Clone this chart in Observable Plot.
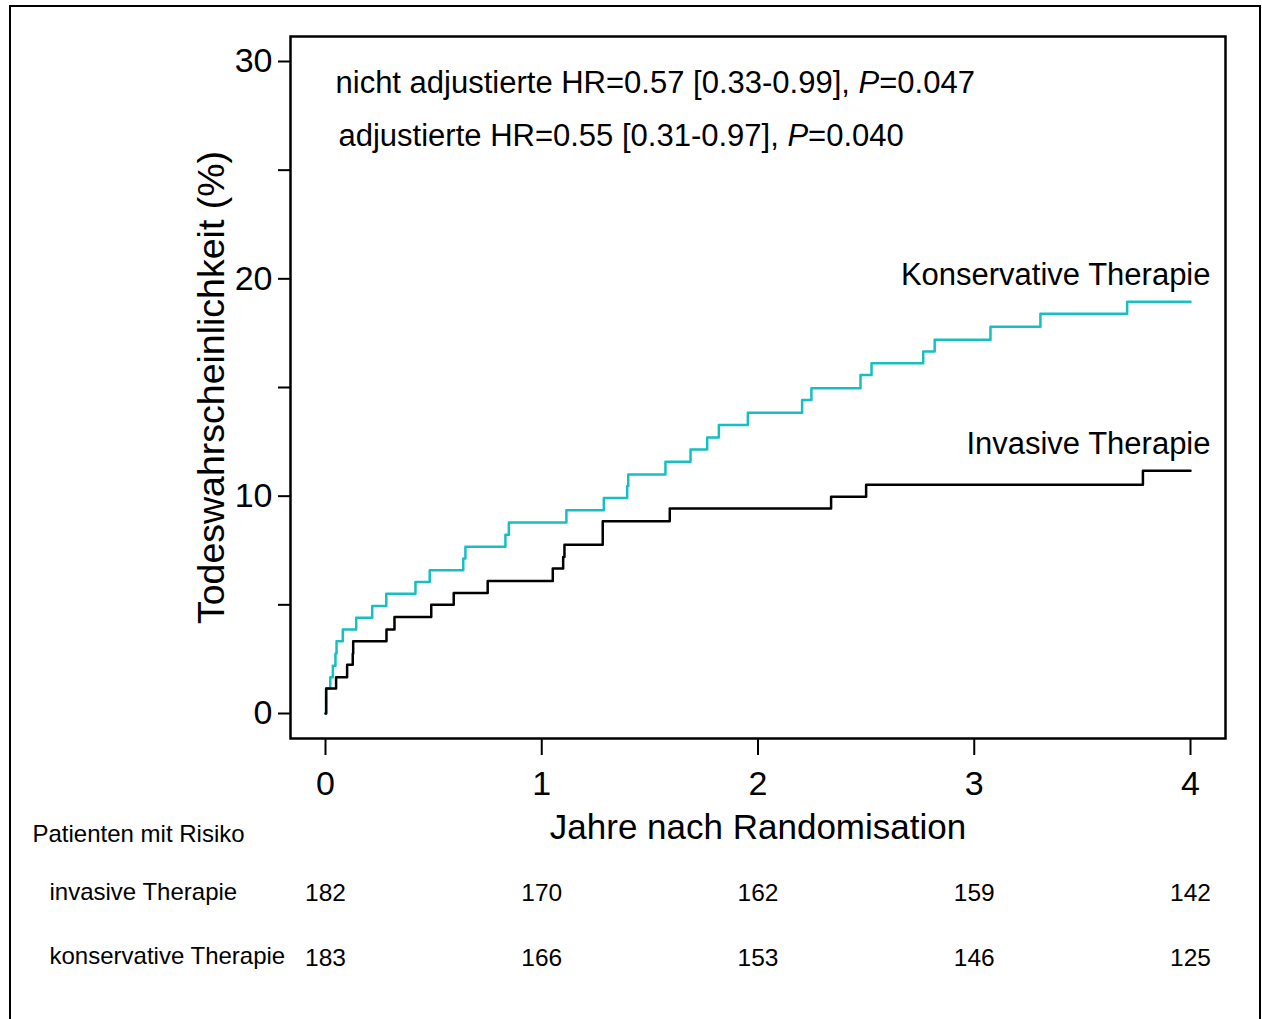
<!DOCTYPE html>
<html>
<head>
<meta charset="utf-8">
<script src="https://cdn.jsdelivr.net/npm/d3@7"></script>
<script src="https://cdn.jsdelivr.net/npm/@observablehq/plot@0.6"></script>
<style>
  html, body { margin: 0; padding: 0; background: #fff; }
  #wrap { position: relative; width: 1262px; height: 1019px; overflow: hidden; background: #fff; }
  #border { position: absolute; left: 9px; top: 5px; width: 1252px; height: 1040px; border: 2.5px solid #000; box-sizing: border-box; pointer-events: none; }
  #chart { position: absolute; left: 0; top: 0; }
</style>
</head>
<body>
<div id="wrap"><div id="chart"></div><div id="border"></div></div>
<script>
// Kaplan-Meier step data (years, cumulative mortality %)
const konsTime = [0, 0.003, 0.022, 0.034, 0.046, 0.051, 0.08, 0.142, 0.216, 0.281, 0.416, 0.482, 0.637, 0.647, 0.832, 0.848, 1.114, 1.287, 1.395, 1.40, 1.572, 1.688, 1.765, 1.819, 1.953, 2.204, 2.247, 2.474, 2.525, 2.764, 2.817, 3.075, 3.306, 3.707, 4.0];
const konsRisk = [0, 1.15, 1.67, 2.2, 2.76, 3.33, 3.87, 4.41, 4.95, 5.51, 6.05, 6.59, 7.13, 7.67, 8.23, 8.79, 9.35, 9.92, 10.47, 11.0, 11.58, 12.15, 12.7, 13.27, 13.84, 14.42, 14.96, 15.58, 16.11, 16.66, 17.2, 17.8, 18.39, 18.95, 18.95];
const invTime = [0, 0.003, 0.049, 0.1, 0.126, 0.128, 0.282, 0.319, 0.489, 0.593, 0.75, 1.051, 1.099, 1.105, 1.282, 1.592, 2.338, 2.5, 3.78, 4.0];
const invRisk = [0, 1.15, 1.67, 2.24, 2.75, 3.33, 3.87, 4.44, 5.0, 5.54, 6.1, 6.67, 7.2, 7.77, 8.85, 9.43, 9.97, 10.53, 11.17, 11.17];

const seriesNames = ["Konservative Therapie", "Invasive Therapie"];
const seriesColors = ["#17bfbf", "#000000"];

const xTicks = [0, 1, 2, 3, 4];
const yTicksMajor = [0, 10, 20, 30];
const yTicksMinor = [5, 15, 25];

const riskTitle = "Patienten mit Risiko";
const riskRowNames = ["invasive Therapie", "konservative Therapie"];
const riskInvasive = [182, 170, 162, 159, 142];
const riskKonservativ = [183, 166, 153, 146, 125];

const annotLines = ["nicht adjustierte HR=0.57 [0.33-0.99], P=0.047", "adjustierte HR=0.55 [0.31-0.97], P=0.040"];
const xLabel = "Jahre nach Randomisation";
const yLabel = "Todeswahrscheinlichkeit (%)";

const kons = konsTime.map((t, i) => ({t, v: konsRisk[i]}));
const inv = invTime.map((t, i) => ({t, v: invRisk[i]}));
const ends = [
  {name: seriesNames[0], t: konsTime[konsTime.length - 1], v: konsRisk[konsRisk.length - 1]},
  {name: seriesNames[1], t: invTime[invTime.length - 1], v: invRisk[invRisk.length - 1]}
];
const riskRows = [
  ...xTicks.map((t, i) => ({t, n: riskInvasive[i], row: 0})),
  ...xTicks.map((t, i) => ({t, n: riskKonservativ[i], row: 1}))
];

const FONT = "'Liberation Sans', Arial, Helvetica, sans-serif";

const plot = Plot.plot({
  width: 1262,
  height: 1019,
  marginLeft: 290,
  marginRight: 37,
  marginTop: 36,
  marginBottom: 281,
  style: {fontFamily: FONT, fontSize: "34px", color: "#000", background: "transparent", overflow: "visible"},
  x: {domain: [-0.16185, 4.16185]},
  y: {domain: [-1.1503, 31.150]},
  marks: [
    Plot.frame({stroke: "#000", strokeWidth: 2.5}),
    Plot.axisY(yTicksMajor, {tickSize: 12, tickPadding: 6, strokeWidth: 2, fontSize: 34, tickFormat: d3.format("d"), label: null}),
    Plot.axisY(yTicksMinor, {tickSize: 12, strokeWidth: 2, tickFormat: () => "", label: null}),
    Plot.axisX(xTicks, {tickSize: 17, tickPadding: 15, strokeWidth: 2, fontSize: 34, tickFormat: d3.format("d"), label: null}),
    Plot.line(kons, {x: "t", y: "v", curve: "step-after", stroke: seriesColors[0], strokeWidth: 2.5}),
    Plot.line(inv, {x: "t", y: "v", curve: "step-after", stroke: seriesColors[1], strokeWidth: 2.5}),
    Plot.text(ends, {x: "t", y: "v", text: "name", textAnchor: "end", lineAnchor: "bottom", dx: 20, dy: -17, fontSize: 31, fill: "#000"}),
    Plot.text([annotLines[0]], {frameAnchor: "top-left", dx: 45, dy: 34, textAnchor: "start", lineAnchor: "top", fontSize: 31, fill: "#000"}),
    Plot.text([annotLines[1]], {frameAnchor: "top-left", dx: 48, dy: 87, textAnchor: "start", lineAnchor: "top", fontSize: 31, fill: "#000"}),
    Plot.text([yLabel], {frameAnchor: "left", dx: -79, rotate: -90, textAnchor: "middle", lineAnchor: "middle", fontSize: 37.5, fill: "#000"}),
    Plot.text([xLabel], {frameAnchor: "bottom", dx: 0, dy: 100, textAnchor: "middle", lineAnchor: "bottom", fontSize: 35, fill: "#000"}),
    Plot.text([riskTitle], {frameAnchor: "bottom-left", dx: -258, dy: 103, textAnchor: "start", lineAnchor: "bottom", fontSize: 24, fill: "#000"}),
    Plot.text([riskRowNames[0]], {frameAnchor: "bottom-left", dx: -241, dy: 161, textAnchor: "start", lineAnchor: "bottom", fontSize: 24, fill: "#000"}),
    Plot.text([riskRowNames[1]], {frameAnchor: "bottom-left", dx: -241, dy: 225, textAnchor: "start", lineAnchor: "bottom", fontSize: 24, fill: "#000"}),
    Plot.text(riskRows.filter(d => d.row === 0), {x: "t", text: "n", frameAnchor: "bottom", dy: 162, textAnchor: "middle", lineAnchor: "bottom", fontSize: 24.5, fill: "#000"}),
    Plot.text(riskRows.filter(d => d.row === 1), {x: "t", text: "n", frameAnchor: "bottom", dy: 227, textAnchor: "middle", lineAnchor: "bottom", fontSize: 24.5, fill: "#000"})
  ]
});

// italic "P" in the annotation lines
d3.select(plot).selectAll("text").each(function() {
  const s = this.textContent;
  const k = s.indexOf("P=");
  if (k >= 0 && this.childElementCount === 0) {
    const sel = d3.select(this);
    sel.text(null);
    sel.append("tspan").text(s.slice(0, k));
    sel.append("tspan").attr("font-style", "italic").text("P");
    sel.append("tspan").text(s.slice(k + 1));
  }
});

document.getElementById("chart").appendChild(plot);
</script>
</body>
</html>
